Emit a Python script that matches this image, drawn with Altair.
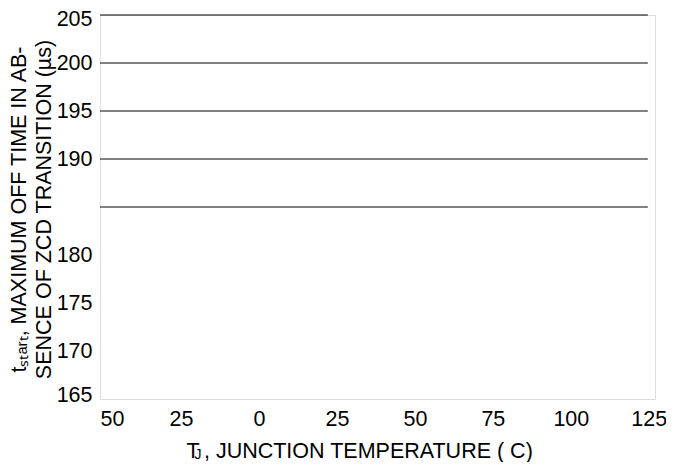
import altair as alt
import pandas as pd

# ---- data ----
x_ticks = [-50, -25, 0, 25, 50, 75, 100, 125]
y_labels = [165, 170, 175, 180, 190, 195, 200, 205]
line_levels = [185, 190, 195, 200, 205]
line_x_start = -51
line_x_end = 124.7

x_title = "T\u2009, JUNCTION TEMPERATURE ( C)"
x_title_sub = "J"
y_title = ["t\u209b\u209c\u2090\u1d63\u209c, MAXIMUM OFF TIME IN AB-",
           "SENCE OF ZCD TRANSITION (\u00b5s)"]

FONT = "Liberation Sans"
FS = 21.5

df = pd.DataFrame({
    "level": line_levels,
    "x0": [line_x_start] * len(line_levels),
    "x1": [line_x_end] * len(line_levels),
})

xscale = alt.Scale(domain=[-51, 127], nice=False, zero=False)
yscale = alt.Scale(domain=[165, 205], nice=False, zero=False)

lines = alt.Chart(df).mark_rule(color="black", strokeWidth=1).encode(
    x=alt.X("x0:Q", scale=xscale, axis=alt.Axis(
        values=x_ticks, labelExpr="format(abs(datum.value), 'd')",
        ticks=False, tickSize=0, domain=False, grid=False,
        labelFlush=5, labelFlushOffset=3, labelPadding=9,
        labelFont=FONT, labelFontSize=FS, labelColor="black",
        title=x_title, titleFont=FONT, titleFontSize=FS, titleFontWeight="normal",
        titleColor="black", titleAlign="left", titleBaseline="alphabetic",
        titleX=86, titleY=58, titleAnchor="start")),
    x2="x1:Q",
    y=alt.Y("level:Q", scale=yscale, axis=alt.Axis(
        values=y_labels, ticks=False, tickSize=0, domain=False, grid=False,
        labelPadding=8, labelFont=FONT, labelFontSize=FS, labelColor="black",
        labelFlush=True, labelFlushOffset=7,
        title=y_title, titleFont=FONT, titleFontSize=FS, titleFontWeight="normal",
        titleColor="black", titleAngle=-90, titleAlign="center", titleBaseline="top",
        titleLineHeight=25, titleX=-92, titleY=194)),
)

sub = alt.Chart(pd.DataFrame({"t": [x_title_sub]})).mark_text(
    font=FONT, fontSize=14, color="black", align="left", baseline="alphabetic"
).encode(text="t:N", x=alt.value(94.5), y=alt.value(444))

chart = alt.layer(lines, sub).properties(
    width=555, height=384,
    autosize=alt.AutoSizeParams(type="none"),
    padding={"left": 92, "top": 7, "right": 11, "bottom": 63},
).configure_view(stroke=None).configure(background="white")

chart.save("out.html", embed_options={"renderer": "svg", "actions": False})
